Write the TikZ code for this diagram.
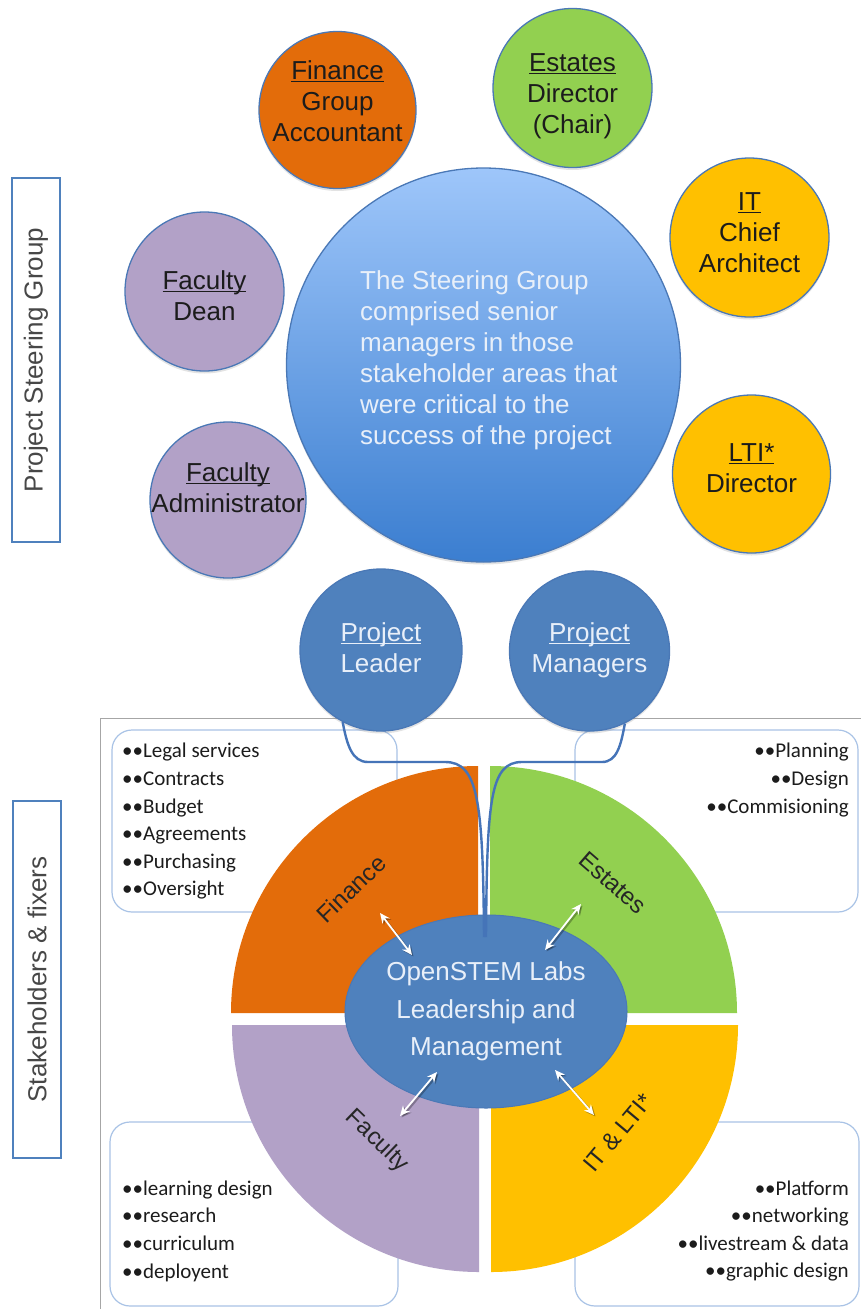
\documentclass[tikz,border=0pt]{standalone}
\usepackage{fontspec}
\setmainfont{Liberation Sans}
\newfontfamily\listfont{Carlito}
\usetikzlibrary{shapes.geometric,arrows.meta,shadows}

\definecolor{finOrange}{HTML}{E36C0A}
\definecolor{estGreen}{HTML}{92D050}
\definecolor{itYellow}{HTML}{FFC000}
\definecolor{facPurple}{HTML}{B2A1C7}
\definecolor{mgBlue}{HTML}{4F81BD}
\definecolor{rimBlue}{HTML}{4A78B6}
\definecolor{linkBlue}{HTML}{4574B8}
\definecolor{panelLine}{HTML}{A9C3E6}
\definecolor{frameGray}{HTML}{A6A6A6}
\definecolor{inkDark}{HTML}{1C1C1C}
\definecolor{paleText}{HTML}{E8EFF9}
\definecolor{sgTop}{HTML}{9EC6FA}
\definecolor{sgBottom}{HTML}{3B7ED0}

% underlined heading word inside a circle
\newcommand\undl[1]{\setbox0=\hbox{#1}\rlap{\rule[-2.6pt]{\wd0}{1.2pt}}\box0}

\begin{document}
\begin{tikzpicture}[x=1pt,y=1pt,
  member/.style={circle, draw=rimBlue, line width=1.3pt, inner sep=0pt, minimum size=#1,
    drop shadow={opacity=0.22, shadow xshift=0pt, shadow yshift=-2.5pt}},
  ctext/.style={text=inkDark, align=center, font=\fontsize{26}{31}\selectfont, inner sep=0pt},
  sidebox/.style={draw=mgBlue, line width=1.3pt, rotate=90, text=black!72,
    font=\fontsize{26}{30}\selectfont, inner sep=0pt},
  panel/.style={draw=panelLine, line width=1.2pt, rounded corners=20pt, inner sep=0pt},
  bullets/.style={font=\listfont\fontsize{21}{27.6}\selectfont, text=inkDark, inner sep=0pt},
  qlabel/.style={font=\fontsize{24}{28}\selectfont, text=black!85, inner sep=0pt},
  link/.style={draw=linkBlue, line width=2.4pt},
  twoway/.style={draw=white, line width=1.8pt,
    {Stealth[length=10pt,width=9pt]}-{Stealth[length=10pt,width=9pt]}},
  twowayshadow/.style={draw=black, opacity=0.28, line width=2.2pt,
    {Stealth[length=10pt,width=9pt]}-{Stealth[length=10pt,width=9pt]},
    transform canvas={shift={(1.5,-1.5)}}}
]
\useasboundingbox (0,0) rectangle (861,-1309);
\fill[white] (0,0) rectangle (861,-1309);

% ---- side titles ----
\node[sidebox, minimum width=364, minimum height=48] (psg) at (36,-360) {Project Steering Group};
\node[sidebox, minimum width=357, minimum height=48] (shf) at (37,-979.5) {Stakeholders \& fixers};

% ---- frame around the stakeholder part ----
\coordinate (frBL) at (100,-1309);
\coordinate (frTL) at (100,-718);
\coordinate (frTR) at (861,-718);
\draw[frameGray, line width=1pt] (frBL) -- (frTL) -- (frTR);

% ---- task panels ----
\node[panel, minimum width=285, minimum height=182] (pFin) at (254.5,-821) {};
\node[panel, minimum width=283, minimum height=182] (pEst) at (716.5,-821) {};
\node[panel, minimum width=288, minimum height=184] (pFac) at (254,-1214) {};
\node[panel, minimum width=284, minimum height=184] (pIT) at (717,-1214) {};

% ---- four quarter segments ----
\fill[finOrange] (478,-1013) -- (231,-1013) arc[start angle=180,end angle=90,radius=247] -- cycle;
\fill[estGreen] (490,-1013) -- (490,-766) arc[start angle=90,end angle=0,radius=247] -- cycle;
\fill[facPurple] (479,-1025) -- (232,-1025) arc[start angle=180,end angle=270,radius=247] -- cycle;
\fill[itYellow] (491,-1025) -- (491,-1272) arc[start angle=270,end angle=360,radius=247] -- cycle;

% ---- central ellipse ----
\node[ellipse, fill=mgBlue, draw=rimBlue, line width=1pt, minimum width=276, minimum height=193,
  inner sep=0pt, text=paleText, align=center, font=\fontsize{26}{37.5}\selectfont]
  (core) at (486,-1011.5) {OpenSTEM Labs\\Leadership and\\Management};

% ---- project roles ----
\node[member=162, fill=mgBlue] (leader) at (381,-650) {};
\node[member=160, fill=mgBlue] (managers) at (589.5,-651) {};
\node[ctext, text=paleText] (leaderT) at (381,-648) {\undl{Project}\\Leader};
\node[ctext, text=paleText] (managersT) at (589.5,-650.5) {\undl{Project}\\Managers};

% ---- bracket joining both roles into the centre ----
\coordinate (tip) at (485,-937);
\draw[link] (leader.242) .. controls (347,-745) and (352,-762) .. (368,-762) -- (445,-762)
  .. controls (478,-762) and (483,-800) .. ([xshift=-1]tip);
\draw[link] (managers.296) .. controls (621,-745) and (617,-762) .. (602,-762) -- (522,-762)
  .. controls (490,-762) and (487,-800) .. ([xshift=1]tip);

% ---- two-way links between the centre and each segment ----
\coordinate (finA) at (380,-913);  \coordinate (finB) at (412,-955);
\coordinate (estA) at (581,-904);  \coordinate (estB) at (545,-950);
\coordinate (facA) at (437,-1072); \coordinate (facB) at (400,-1116);
\coordinate (itA) at (555,-1070);  \coordinate (itB) at (594,-1115);
\foreach \a/\b in {finA/finB, estA/estB, facA/facB, itA/itB}{
  \draw[twowayshadow] (\a) -- (\b);
  \draw[twoway] (\a) -- (\b);
}

% ---- segment labels ----
\node[qlabel, rotate=44] (lFin) at (351,-889) {Finance};
\node[qlabel, rotate=-41] (lEst) at (613,-883) {Estates};
\node[qlabel, rotate=-44] (lFac) at (377,-1141) {Faculty};
\node[qlabel, rotate=50] (lIT) at (618,-1133) {IT \& LTI*};

% ---- task lists ----
\node[bullets, anchor=west, align=left] (bFin) at (122,-821.5)
  {••Legal services\\••Contracts\\••Budget\\••Agreements\\••Purchasing\\••Oversight};
\node[bullets, anchor=east, align=right] (bEst) at (849,-780)
  {••Planning\\••Design\\••Commisioning};
\node[bullets, anchor=west, align=left] (bFac) at (122,-1231)
  {••learning design\\••research\\••curriculum\\••deployent};
\node[bullets, anchor=east, align=right] (bIT) at (849,-1231)
  {••Platform\\••networking\\••livestream \& data\\••graphic design};

% ---- steering group ----
\node[member=394, top color=sgTop, bottom color=sgBottom, draw=rimBlue] (sg) at (483.5,-365) {};
\node[anchor=west, align=left, text=paleText, font=\fontsize{26}{31}\selectfont, inner sep=0pt]
  (sgT) at (360,-360) {The Steering Group\\comprised senior\\managers in those\\stakeholder areas that\\were critical to the\\success of the project};

\node[member=157, fill=finOrange] (fin) at (337.5,-110) {};
\node[ctext] (finT) at (337.5,-101) {\undl{Finance}\\Group\\Accountant};
\node[member=159, fill=estGreen] (est) at (572.5,-88) {};
\node[ctext] (estT) at (572.5,-96) {\undl{Estates}\\Director\\(Chair)};
\node[member=159, fill=itYellow] (it) at (749.5,-237.5) {};
\node[ctext] (itT) at (749.5,-233) {\undl{IT}\\Chief\\Architect};
\node[member=159, fill=facPurple] (dean) at (204.5,-291.5) {};
\node[ctext] (deanT) at (204.5,-296) {\undl{Faculty}\\Dean};
\node[member=156, fill=facPurple] (admin) at (228,-500) {};
\node[ctext] (adminT) at (228,-488) {\undl{Faculty}\\Administrator};
\node[member=158, fill=itYellow] (lti) at (751.5,-474) {};
\node[ctext] (ltiT) at (751.5,-468) {\undl{LTI*}\\Director};
\end{tikzpicture}
\end{document}
